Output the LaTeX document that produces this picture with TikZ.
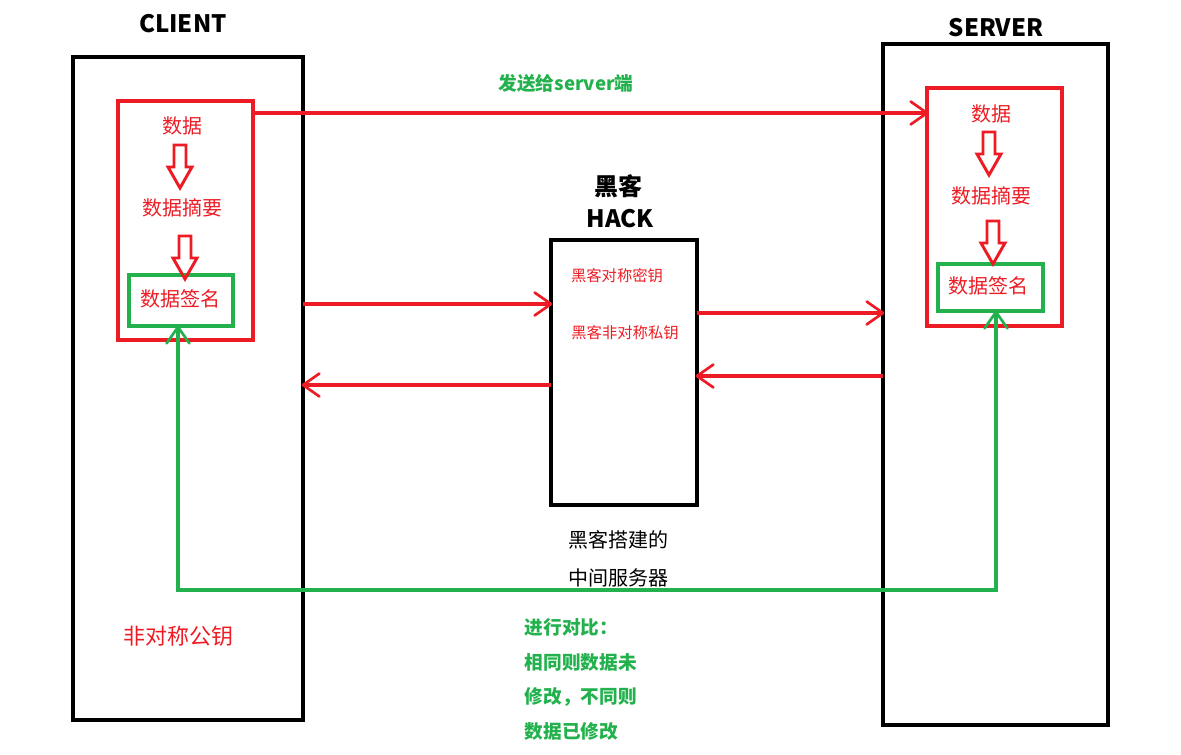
\documentclass[tikz,border=0pt]{standalone}
\usepackage{fontspec}
\setmainfont{Noto Sans CJK SC}
\usetikzlibrary{arrows.meta}
\definecolor{myred}{RGB}{237,28,36}
\definecolor{mygreen}{RGB}{34,177,76}
\begin{document}
\begin{tikzpicture}[x=0.75pt,y=-0.75pt,
  blk/.style={draw=black,line width=3pt},
  rbox/.style={draw=myred,line width=2.6pt},
  gbox/.style={draw=mygreen,line width=2.6pt},
  rtxt/.style={text=myred,font=\fontsize{15}{17}\selectfont},
  stxt/.style={text=myred,font=\fontsize{11.5}{13}\selectfont},
  gtxt/.style={text=mygreen,font=\bfseries\fontsize{14}{16}\selectfont},
  ttl/.style={text=black,font=\bfseries\fontsize{18}{20}\selectfont},
  btxt/.style={text=black,font=\fontsize{15}{17}\selectfont}]
\useasboundingbox (0,0) rectangle (1181,754);
\newcommand\harrow[2]{\draw[draw=myred,line width=2.2pt,line join=miter] (#1-6,#2) -- (#1+6,#2) -- (#1+6,#2+22) -- (#1+12,#2+22) -- (#1,#2+43) -- (#1-12,#2+22) -- (#1-6,#2+22) -- cycle;}
\newcommand\barb[3]{%
  \draw[draw=#1,line width=2pt,line cap=round] (#2) -- ++(#3+145:20) (#2) -- ++(#3-145:20);}
% boxes
\draw[blk] (73,57) rectangle (303,720);
\draw[blk] (883,44) rectangle (1108,725);
\draw[blk] (551,240) rectangle (697,505);
\draw[rbox] (118,101) rectangle (253,340);
\draw[rbox] (927,88) rectangle (1062,326);
\draw[gbox] (129,275) rectangle (233,326);
\draw[gbox] (938,264) rectangle (1043,311);
% titles
\node[ttl] (ct) at (183,24) {CLIENT};
\node[ttl] (st) at (996,28) {SERVER};
\node[ttl] (h1) at (618,186) {黑客};
\node[ttl] (h2) at (620,219) {HACK};
% client texts
\node[rtxt] (c1) at (182,126) {数据};
\node[rtxt] (c2) at (182,208) {数据摘要};
\node[rtxt] (c3) at (180,299) {数据签名};
\harrow{180}{145}
\harrow{185}{236}
\node[rtxt,font=\fontsize{16.5}{18}\selectfont] (pk) at (178,636) {非对称公钥};
% server texts
\node[rtxt] (s1) at (991,114) {数据};
\node[rtxt] (s2) at (991,196) {数据摘要};
\node[rtxt] (s3) at (988,286) {数据签名};
\harrow{989}{132}
\harrow{993}{221}
% hack texts
\node[stxt] (k1) at (617,276) {黑客对称密钥};
\node[stxt] (k2) at (625,333) {黑客非对称私钥};
\node[btxt] (m1) at (618,540) {黑客搭建的};
\node[btxt] (m2) at (618,578) {中间服务器};
\node[gtxt] (send) at (566,83) {发送给server端};
\node[gtxt,anchor=west] (g1) at (520,627) {进行对比：};
\node[gtxt,anchor=west] (g2) at (520,662) {相同则数据未};
\node[gtxt,anchor=west] (g3) at (520,697) {修改，不同则};
\node[gtxt,anchor=west] (g4) at (520,731) {数据已修改};
% red arrows
\coordinate (a0) at (253,113); \coordinate (a1) at (927,113);
\draw[draw=myred,line width=2.4pt] (a0) -- (a1); \barb{myred}{a1}{0}
\coordinate (b0) at (303,304); \coordinate (b1) at (551,304);
\draw[draw=myred,line width=2.4pt] (b0) -- (b1); \barb{myred}{b1}{0}
\coordinate (c0) at (697,313); \coordinate (c1) at (883,313);
\draw[draw=myred,line width=2.4pt] (c0) -- (c1); \barb{myred}{c1}{0}
\coordinate (d0) at (883,376); \coordinate (d1) at (697,376);
\draw[draw=myred,line width=2.4pt] (d0) -- (d1); \barb{myred}{d1}{180}
\coordinate (e0) at (551,385); \coordinate (e1) at (303,385);
\draw[draw=myred,line width=2.4pt] (e0) -- (e1); \barb{myred}{e1}{180}
% green
\coordinate (ga) at (178,327); \coordinate (gb) at (178,590);
\coordinate (gc) at (996,590); \coordinate (gd) at (996,312);
\draw[draw=mygreen,line width=2.4pt] (ga) -- (gb) -- (gc) -- (gd);
\barb{mygreen}{ga}{-90}
\barb{mygreen}{gd}{-90}
\end{tikzpicture}
\end{document}
